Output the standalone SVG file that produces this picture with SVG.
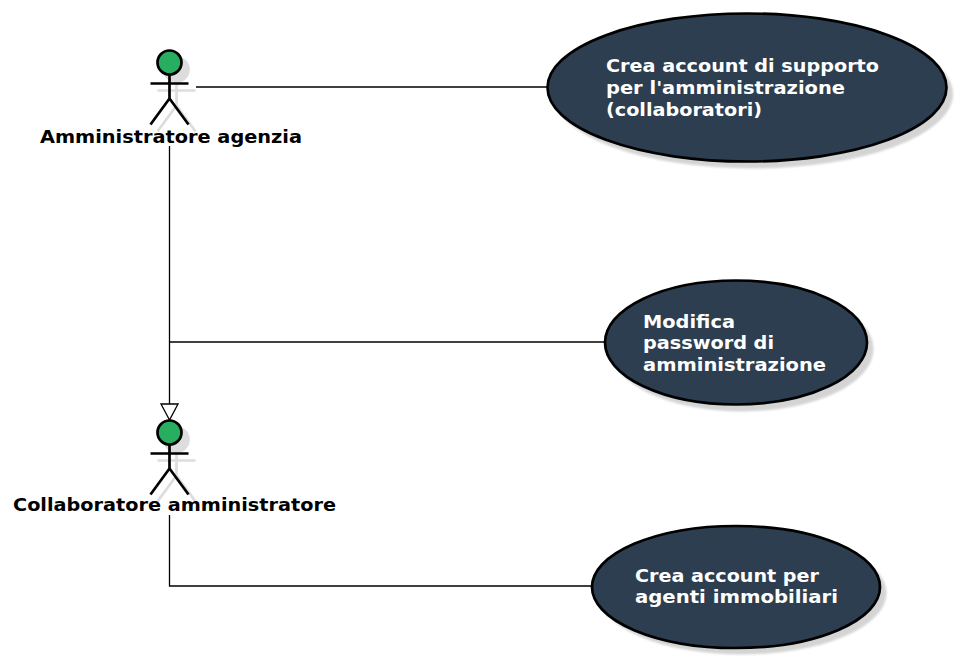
<svg xmlns="http://www.w3.org/2000/svg" width="960" height="661" viewBox="0 0 960 661">
<defs>
<style>
.bg{fill:#fff}
.conn{fill:none;stroke:#000;stroke-width:1.3}
.uc{fill:#2C3E50;stroke:#000;stroke-width:2.7}
.ucs{fill:#d4d4d4;filter:url(#soft)}
.ut{font-family:"DejaVu Sans",sans-serif;font-weight:bold;font-size:17.5px;fill:#fff}
.at{font-family:"DejaVu Sans",sans-serif;font-weight:bold;font-size:17.5px;fill:#000}
.head{fill:#27AE60;stroke:#000;stroke-width:2.7}
.limb{fill:none;stroke:#000;stroke-width:2.7}
.shl{fill:none;stroke:#ddd;stroke-width:2.7}
.shh{fill:#ddd;stroke:#ddd;stroke-width:2.7}
</style>
<filter id="soft" x="-5%" y="-5%" width="110%" height="110%"><feGaussianBlur stdDeviation="0.8"/></filter>
<g id="actorShape">
<circle class="shh" cx="7" cy="7" r="12"/>
<path class="shl" d="M7 19V43M-12 28H26M7 43L-12 69M7 43L26 69"/>
<circle class="head" cx="0" cy="0" r="12"/>
<path class="limb" d="M0 12V36M-19 21H19M0 36L-19 62M0 36L19 62"/>
</g>
</defs>
<rect class="bg" width="960" height="661"/>
<g id="connectors">
<path class="conn" d="M196 87H547"/>
<path class="conn" d="M169.500 146V404"/>
<path d="M169.500 420L161 404H178Z" fill="#fff" stroke="#000" stroke-width="1.300"/>
<path class="conn" d="M169.500 342H605"/>
<path class="conn" d="M169.500 515V586H592"/>
</g>
<g id="actor-amministratore">
<use href="#actorShape" x="169.500" y="62.500"/>
<text class="at" x="40" y="143" textLength="262" lengthAdjust="spacingAndGlyphs">Amministratore agenzia</text>
</g>
<g id="actor-collaboratore">
<use href="#actorShape" x="169.500" y="432.500"/>
<text class="at" x="13" y="511" textLength="323" lengthAdjust="spacingAndGlyphs">Collaboratore amministratore</text>
</g>
<g id="uc-crea-supporto">
<ellipse class="ucs" cx="753" cy="94" rx="200" ry="74.500"/>
<ellipse class="uc" cx="747" cy="87.500" rx="199.500" ry="74"/>
<text class="ut" x="606" y="72" textLength="273" lengthAdjust="spacingAndGlyphs">Crea account di supporto</text>
<text class="ut" x="606" y="94" textLength="239" lengthAdjust="spacingAndGlyphs">per l'amministrazione</text>
<text class="ut" x="606" y="116" textLength="156" lengthAdjust="spacingAndGlyphs">(collaboratori)</text>
</g>
<g id="uc-modifica">
<ellipse class="ucs" cx="742" cy="349" rx="131.500" ry="62.500"/>
<ellipse class="uc" cx="736" cy="342.500" rx="131" ry="62"/>
<text class="ut" x="643" y="328" textLength="92" lengthAdjust="spacingAndGlyphs">Modifica</text>
<text class="ut" x="643" y="349" textLength="131" lengthAdjust="spacingAndGlyphs">password di</text>
<text class="ut" x="643" y="371" textLength="183" lengthAdjust="spacingAndGlyphs">amministrazione</text>
</g>
<g id="uc-crea-agenti">
<ellipse class="ucs" cx="742" cy="593" rx="144.500" ry="61.500"/>
<ellipse class="uc" cx="736" cy="587" rx="144" ry="61"/>
<text class="ut" x="635" y="582" textLength="184" lengthAdjust="spacingAndGlyphs">Crea account per</text>
<text class="ut" x="635" y="603" textLength="203" lengthAdjust="spacingAndGlyphs">agenti immobiliari</text>
</g>
</svg>
